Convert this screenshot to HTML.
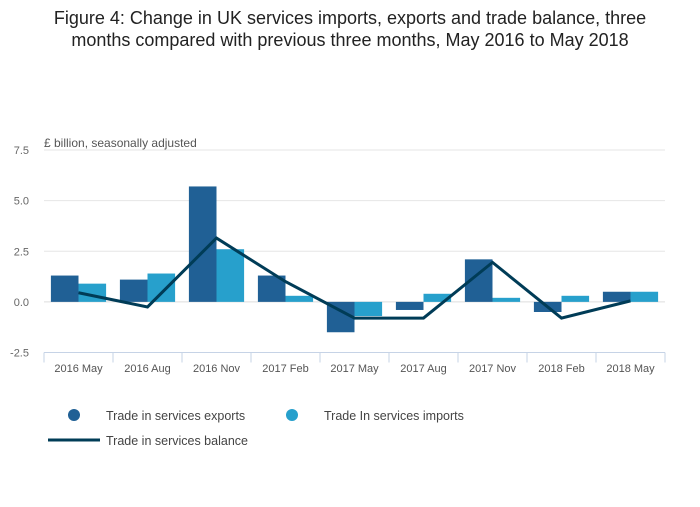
<!DOCTYPE html>
<html><head><meta charset="utf-8"><style>
body{margin:0;background:#fff;font-family:"Liberation Sans",sans-serif;}
svg text{font-family:"Liberation Sans",sans-serif;}
</style></head><body>
<svg width="700" height="502">
<text x="350" y="24" text-anchor="middle" font-size="18" fill="#222">Figure 4: Change in UK services imports, exports and trade balance, three</text>
<text x="350" y="46" text-anchor="middle" font-size="18" fill="#222">months compared with previous three months, May 2016 to May 2018</text>
<text x="44" y="147" font-size="12" fill="#555">£ billion, seasonally adjusted</text>
<g id="grid"></g><g id="bars"></g><g id="line"></g><g id="xaxis"></g>
<g>
<circle cx="74" cy="415" r="6" fill="#206095"/>
<text x="106" y="420" font-size="12.5" fill="#444">Trade in services exports</text>
<circle cx="292" cy="415" r="6" fill="#27a0cc"/>
<text x="324" y="420" font-size="12.5" fill="#444">Trade In services imports</text>
<line x1="48" y1="440" x2="100" y2="440" stroke="#003c57" stroke-width="3"/>
<text x="106" y="445" font-size="12.5" fill="#444">Trade in services balance</text>
</g>
</svg>
<script>
const categories=["2016 May","2016 Aug","2016 Nov","2017 Feb","2017 May","2017 Aug","2017 Nov","2018 Feb","2018 May"];
const exportsVals=[1.3,1.1,5.7,1.3,-1.5,-0.4,2.1,-0.5,0.5];
const importsVals=[0.9,1.4,2.6,0.3,-0.7,0.4,0.2,0.3,0.5];
const balanceVals=[0.45,-0.25,3.15,1.0,-0.8,-0.8,1.95,-0.8,0.05];
const yTicks=[7.5,5.0,2.5,0.0,-2.5];
const yTickLabels=["7.5","5.0","2.5","0.0","-2.5"];
const NS="http://www.w3.org/2000/svg";
const x0=44,x1=665,yTop=150,yBot=352.5,yMin=-2.5,yMax=7.5;
const bw=(x1-x0)/categories.length;
const y=v=>yBot-(v-yMin)/(yMax-yMin)*(yBot-yTop);
const xc=i=>x0+bw*(i+0.5);
function mk(tag,attrs,parent,txt){const e=document.createElementNS(NS,tag);for(const k in attrs)e.setAttribute(k,attrs[k]);if(txt!=null)e.textContent=txt;parent.appendChild(e);return e;}
const grid=document.getElementById('grid');
yTicks.forEach((t,i)=>{
 if(t!==yMin){const l=mk('line',{x1:x0,x2:x1,y1:y(t),y2:y(t),stroke:t===0?'#ddd':'#e6e6e6','stroke-width':1},grid);
 
 }
 const tx=mk('text',{x:29,y:y(t)+4,'text-anchor':'end','font-size':11,fill:'#666'},grid,yTickLabels[i]);
 
 
});
const bars=document.getElementById('bars');
categories.forEach((c,i)=>{
 const w=bw*0.4;
 [[exportsVals[i],'#206095',xc(i)-w,'bar-exports'],[importsVals[i],'#27a0cc',xc(i),'bar-imports']].forEach(([v,col,bx,nm])=>{
  const r=mk('rect',{x:bx,y:Math.min(y(v),y(0)),width:w,height:Math.abs(y(v)-y(0)),fill:col},bars);
  
  
 });
});
const pts=balanceVals.map((v,i)=>xc(i)+','+y(v)).join(' ');
const pl=mk('polyline',{points:pts,fill:'none',stroke:'#003c57','stroke-width':3,'stroke-linejoin':'miter'},document.getElementById('line'));


const xa=document.getElementById('xaxis');
const ax=mk('line',{x1:x0,x2:x1,y1:yBot,y2:yBot,stroke:'#c6d3e6','stroke-width':1},xa);


for(let i=0;i<=categories.length;i++){
 const tk=mk('line',{x1:x0+bw*i,x2:x0+bw*i,y1:yBot,y2:yBot+10,stroke:'#c6d3e6'},xa);
 
 
}
categories.forEach((c,i)=>{
 const t=mk('text',{x:xc(i),y:372,'text-anchor':'middle','font-size':11,fill:'#555'},xa,c);
 
 
});
</script>
</body></html>
